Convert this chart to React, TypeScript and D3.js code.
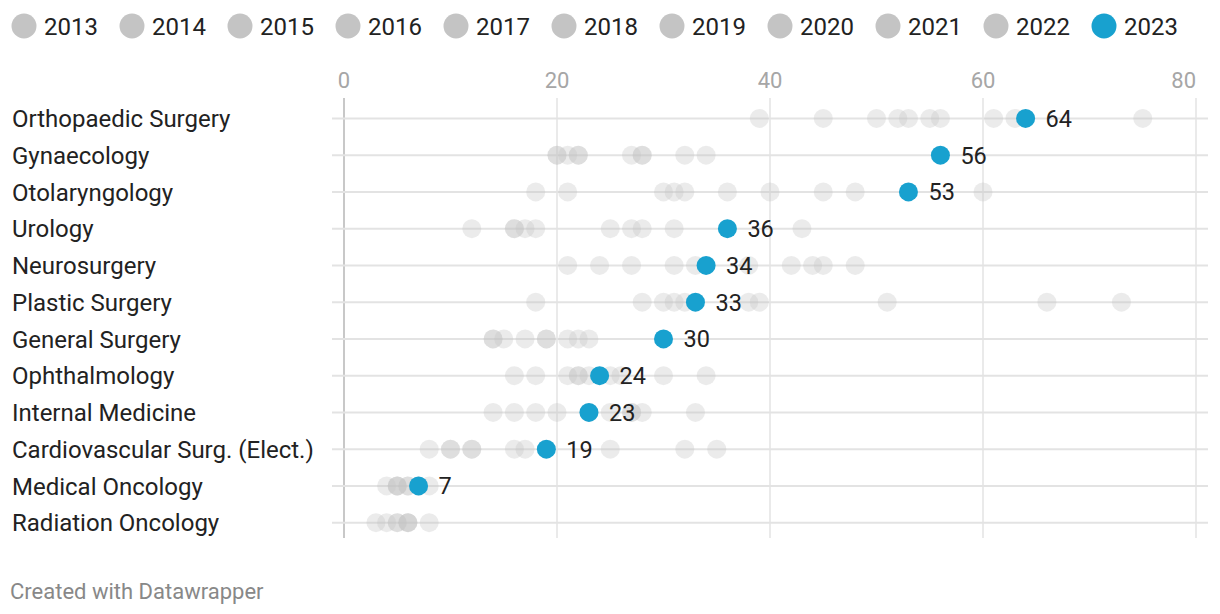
import React from "react";
import * as d3 from "d3";

const categories = [
  "Orthopaedic Surgery",
  "Gynaecology",
  "Otolaryngology",
  "Urology",
  "Neurosurgery",
  "Plastic Surgery",
  "General Surgery",
  "Ophthalmology",
  "Internal Medicine",
  "Cardiovascular Surg. (Elect.)",
  "Medical Oncology",
  "Radiation Oncology",
];

const years = ["2013", "2014", "2015", "2016", "2017", "2018", "2019", "2020", "2021", "2022", "2023"];

// one array per year, values in category order (null = no value)
const y2013 = [39, 20, 18, 12, 21, 18, 14, 16, 14, 8, 4, 3];
const y2014 = [45, 20, 21, 16, 24, 28, 14, 18, 16, 10, 5, 4];
const y2015 = [50, 21, 30, 16, 27, 30, 15, 21, 18, 10, 5, 5];
const y2016 = [52, 22, 31, 17, 31, 31, 17, 22, 20, 12, 5, 5];
const y2017 = [53, 22, 32, 18, 33, 32, 19, 22, 23, 12, 6, 6];
const y2018 = [55, 27, 36, 25, 38, 38, 19, 23, 25, 16, 6, 6];
const y2019 = [56, 28, 40, 27, 42, 39, 21, 25, 27, 17, 7, 6];
const y2020 = [61, 28, 45, 28, 44, 51, 22, 26, 27, 25, 8, 8];
const y2021 = [63, 32, 48, 31, 45, 66, 23, 30, 28, 32, null, null];
const y2022 = [75, 34, 60, 43, 48, 73, null, 34, 33, 35, null, null];
const y2023 = [64, 56, 53, 36, 34, 33, 30, 24, 23, 19, 7, null];

const priorSeries = [y2013, y2014, y2015, y2016, y2017, y2018, y2019, y2020, y2021, y2022];

const xTicks = [0, 20, 40, 60, 80];

const W = 1220;
const H = 614;
const FONT = "Roboto, 'Noto Sans', sans-serif";
const BLUE = "#18a1cf";
const GREY = "#c4c4c4";

export default function App() {
  const x = d3.scaleLinear().domain([0, 80]).range([344, 1196]);
  const y = d3.scaleBand<string>().domain(categories).range([100, 541]).padding(0);
  const cy = (c: string) => (y(c) as number) + y.bandwidth() / 2;

  const legendX = d3.scalePoint<string>().domain(years).range([24, 1104]);

  const greyDots: { c: string; v: number; k: string }[] = [];
  priorSeries.forEach((s, si) =>
    s.forEach((v, ci) => {
      if (v !== null && v !== undefined) greyDots.push({ c: categories[ci], v, k: `${si}-${ci}` });
    })
  );

  return (
    <svg
      width={W}
      height={H}
      style={{ position: "absolute", left: 0, top: 0, background: "#fff" }}
      fontFamily={FONT}
    >
      {/* legend */}
      {years.map((yr, i) => (
        <g key={yr} transform={`translate(${legendX(yr)},26)`}>
          <circle r={12.5} fill={i === years.length - 1 ? BLUE : GREY} />
          <text x={20} dy="0.36em" fontSize={24} fill="#222">
            {yr}
          </text>
        </g>
      ))}

      {/* x tick labels */}
      {xTicks.map((t, i) => (
        <text
          key={t}
          x={i === xTicks.length - 1 ? x(t) : x(t)}
          y={80}
          dy="0.35em"
          textAnchor={i === xTicks.length - 1 ? "end" : "middle"}
          fontSize={22}
          fill="#a6a6a6"
        >
          {t}
        </text>
      ))}

      {/* vertical grid */}
      {xTicks.map((t) => (
        <line
          key={"g" + t}
          x1={x(t)}
          x2={x(t)}
          y1={98}
          y2={538}
          stroke={t === 0 ? "#c8c8c8" : "#e3e3e3"}
          strokeWidth={t === 0 ? 2 : 1.5}
        />
      ))}

      {/* row lines + labels */}
      {categories.map((c) => (
        <g key={c}>
          <line x1={332} x2={1208} y1={cy(c)} y2={cy(c)} stroke="#e3e3e3" strokeWidth={2} />
          <text x={12} y={cy(c)} dy="0.36em" fontSize={24} fill="#222">
            {c}
          </text>
        </g>
      ))}

      {/* grey dots */}
      {greyDots.map((d) => (
        <circle key={d.k} cx={x(d.v)} cy={cy(d.c)} r={9.5} fill={GREY} fillOpacity={0.34} />
      ))}

      {/* 2023 dots + labels */}
      {y2023.map((v, i) =>
        v === null ? null : (
          <g key={"b" + i}>
            <circle cx={x(v)} cy={cy(categories[i])} r={9.5} fill={BLUE} />
            <text x={x(v) + 20} y={cy(categories[i])} dy="0.36em" fontSize={23.5} fill="#222">
              {v}
            </text>
          </g>
        )
      )}

      {/* footer */}
      <text x={10} y={591} dy="0.35em" fontSize={22} fill="#888">
        Created with Datawrapper
      </text>
    </svg>
  );
}
